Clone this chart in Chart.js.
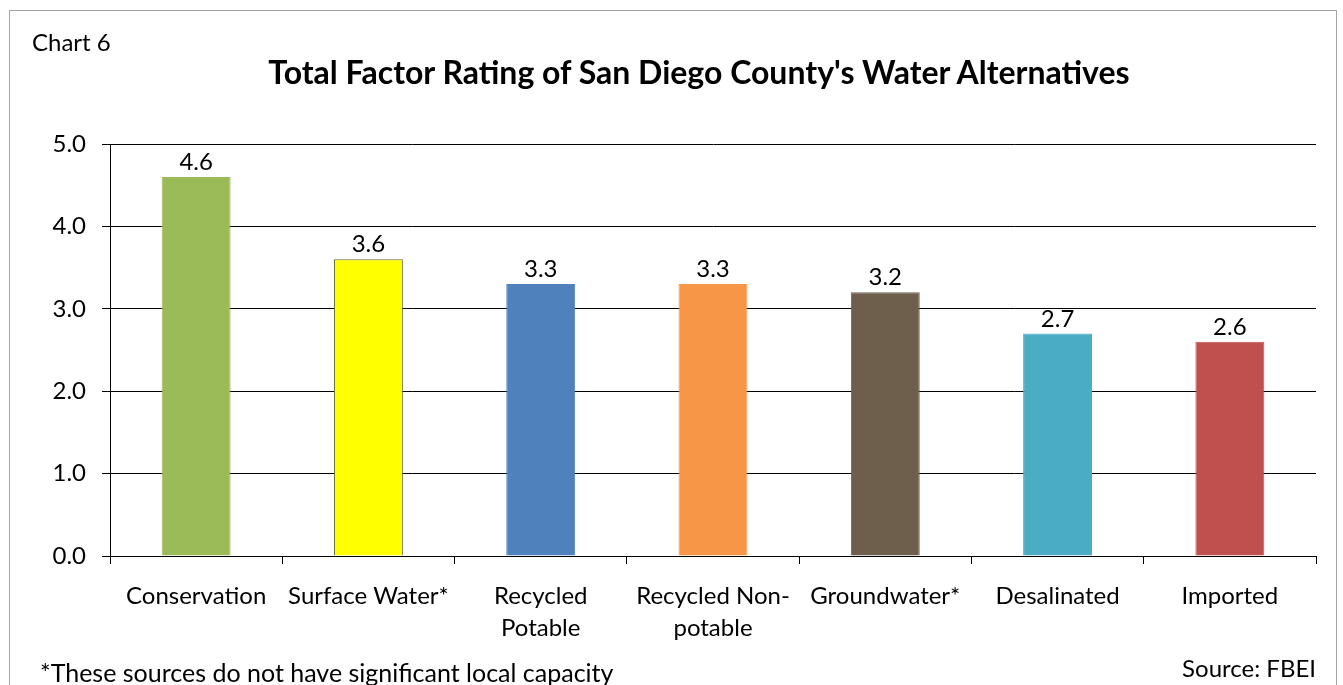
<!DOCTYPE html>
<html>
<head>
<meta charset="utf-8">
<script src="https://cdn.jsdelivr.net/npm/chart.js@4.4.1/dist/chart.umd.min.js"></script>
<style>
  html, body { margin: 0; padding: 0; background: #fff; overflow: hidden; }
  #wrap { position: relative; width: 1343px; height: 685px; font-family: Lato, 'Open Sans', sans-serif; color: #000; }
  #frame { position: absolute; left: 9px; top: 10px; width: 1328px; height: 720px; border: 1px solid #a6a6a6; box-sizing: border-box; }
  #chart6 { position: absolute; left: 32px; top: 27px; font-size: 24px; line-height: 29px; }
  #title { position: absolute; left: 0; width: 1398px; top: 53px; text-align: center; font-size: 32px; line-height: 38px; font-weight: bold; }
  #note { position: absolute; left: 40px; top: 657px; font-size: 25px; line-height: 30px; white-space: nowrap; }
  #source { position: absolute; right: 27px; top: 653px; font-size: 24px; line-height: 29px; }
  canvas { position: absolute; left: 0; top: 0; }
</style>
</head>
<body>
<div id="wrap">
  <div id="frame"></div>
  <canvas id="c" width="1343" height="685"></canvas>
  <div id="chart6">Chart 6</div>
  <div id="title">Total Factor Rating of San Diego County's Water Alternatives</div>
  <div id="note">*These sources do not have significant local capacity</div>
  <div id="source">Source: FBEI</div>
</div>
<script>
  const categories = [
    'Conservation',
    'Surface Water*',
    ['Recycled', 'Potable'],
    ['Recycled Non-', 'potable'],
    'Groundwater*',
    'Desalinated',
    'Imported'
  ];
  const ratings = [4.6, 3.6, 3.3, 3.3, 3.2, 2.7, 2.6];
  const barColors = ['#9bbb59', '#ffff00', '#4f81bd', '#f79646', '#6e5f4c', '#4bacc6', '#c0504d'];
  const barBorders = ['#9bbb59', '#6b6b3a', '#4f81bd', '#f79646', '#6e5f4c', '#4bacc6', '#c0504d'];
  const yTicks = [0, 1, 2, 3, 4, 5];

  const FONT = 'Lato, "Open Sans", sans-serif';

  const valueLabels = {
    id: 'valueLabels',
    afterDatasetsDraw: function (chart) {
      const meta = chart.getDatasetMeta(0);
      const ctx = chart.ctx;
      ctx.save();
      ctx.fillStyle = '#000';
      ctx.font = '24px ' + FONT;
      ctx.textAlign = 'center';
      ctx.textBaseline = 'alphabetic';
      meta.data.forEach(function (bar, i) {
        ctx.fillText(ratings[i].toFixed(1), bar.x, bar.y - 7);
      });
      ctx.restore();
    }
  };

  new Chart(document.getElementById('c'), {
    type: 'bar',
    data: {
      labels: categories,
      datasets: [{
        data: ratings,
        backgroundColor: barColors,
        borderColor: barBorders,
        borderWidth: 1,
        barPercentage: 0.4,
        categoryPercentage: 1
      }]
    },
    options: {
      responsive: false,
      animation: false,
      layout: { padding: { top: 144, right: 27, left: 0, bottom: 0 } },
      plugins: {
        legend: { display: false },
        tooltip: { enabled: false }
      },
      scales: {
        x: {
          afterFit: function (scale) { scale.height = 129; },
          grid: {
            offset: true,
            drawOnChartArea: false,
            drawTicks: true,
            tickLength: 8,
            color: '#000'
          },
          border: { color: '#000', width: 1 },
          ticks: {
            color: '#000',
            padding: 17,
            maxRotation: 0,
            autoSkip: false,
            font: { family: FONT, size: 24, lineHeight: 1.3 }
          }
        },
        y: {
          min: 0,
          max: 5,
          afterFit: function (scale) { scale.width = 110; },
          afterBuildTicks: function (scale) {
            scale.ticks = yTicks.map(function (v) { return { value: v }; });
          },
          grid: {
            color: '#000',
            drawTicks: true,
            tickLength: 8
          },
          border: { color: '#000', width: 1 },
          ticks: {
            color: '#000',
            padding: 16,
            font: { family: FONT, size: 24 },
            callback: function (v) { return Number(v).toFixed(1); }
          }
        }
      }
    },
    plugins: [valueLabels]
  });
</script>
</body>
</html>
